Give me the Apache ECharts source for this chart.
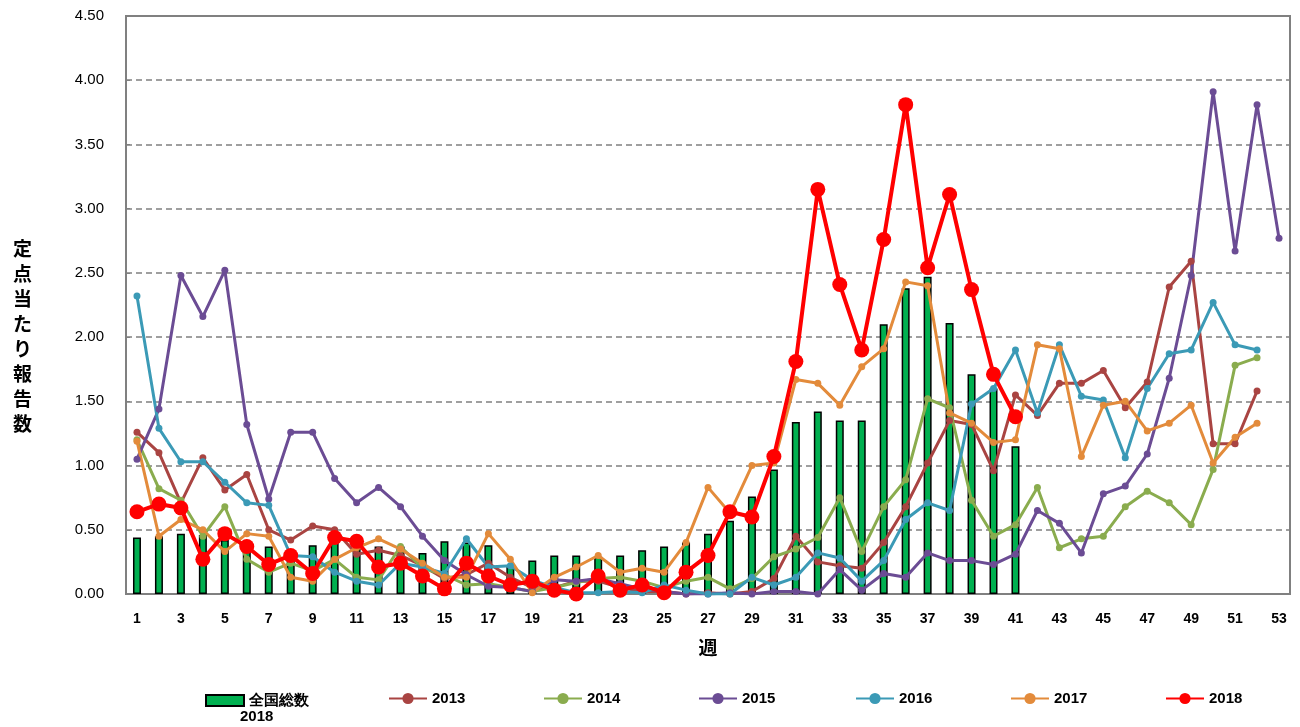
<!DOCTYPE html>
<html>
<head>
<meta charset="utf-8">
<script src="https://cdn.jsdelivr.net/npm/echarts@6/dist/echarts.min.js"></script>
<style>
  html, body { margin: 0; padding: 0; background: #fff; }
  #chart { width: 1300px; height: 727px; }
</style>
</head>
<body>
<div id="chart"></div>
<script>
var weeks = [];
for (var i = 1; i <= 53; i++) weeks.push(String(i));

// 全国総数 2018 (weeks 1-41)
var total2018 = [0.44, 0.45, 0.47, 0.46, 0.42, 0.38, 0.37, 0.33, 0.38, 0.42, 0.35, 0.37, 0.37, 0.32, 0.41, 0.40, 0.38, 0.21, 0.26, 0.30,
  0.30, 0.29, 0.30, 0.34, 0.37, 0.40, 0.47, 0.57, 0.76, 0.97, 1.34, 1.42, 1.35, 1.35, 2.10, 2.38, 2.47, 2.11, 1.71, 1.60, 1.15];
var y2013 = [1.26, 1.10, 0.71, 1.06, 0.81, 0.93, 0.50, 0.42, 0.53, 0.50, 0.31, 0.34, 0.30, 0.22, 0.12, 0.15, 0.24, 0.13, 0.05, 0.05,
  0.10, 0.10, 0.05, 0.02, 0.02, 0.00, 0.01, 0.00, 0.02, 0.12, 0.45, 0.25, 0.22, 0.20, 0.40, 0.68, 1.02, 1.35, 1.32, 0.96,
  1.55, 1.39, 1.64, 1.64, 1.74, 1.45, 1.65, 2.39, 2.59, 1.17, 1.17, 1.58];
var y2014 = [1.20, 0.82, 0.73, 0.45, 0.68, 0.27, 0.17, 0.24, 0.18, 0.27, 0.13, 0.11, 0.37, 0.20, 0.15, 0.07, 0.08, 0.05, 0.02, 0.05,
  0.09, 0.12, 0.13, 0.10, 0.05, 0.10, 0.13, 0.04, 0.12, 0.29, 0.35, 0.44, 0.75, 0.33, 0.68, 0.89, 1.52, 1.45, 0.73, 0.45,
  0.54, 0.83, 0.36, 0.43, 0.45, 0.68, 0.80, 0.71, 0.54, 0.97, 1.78, 1.84];
var y2015 = [1.05, 1.44, 2.48, 2.16, 2.52, 1.32, 0.74, 1.26, 1.26, 0.90, 0.71, 0.83, 0.68, 0.45, 0.26, 0.15, 0.06, 0.05, 0.02, 0.11,
  0.10, 0.12, 0.08, 0.04, 0.02, 0.00, 0.00, 0.01, 0.00, 0.02, 0.02, 0.00, 0.19, 0.03, 0.16, 0.13, 0.32, 0.26, 0.26, 0.23,
  0.31, 0.65, 0.55, 0.32, 0.78, 0.84, 1.09, 1.68, 2.48, 3.91, 2.67, 3.81, 2.77];
var y2016 = [2.32, 1.29, 1.03, 1.03, 0.87, 0.71, 0.69, 0.30, 0.29, 0.17, 0.10, 0.07, 0.24, 0.21, 0.16, 0.43, 0.21, 0.22, 0.11, 0.05,
  0.01, 0.01, 0.02, 0.01, 0.07, 0.03, 0.00, 0.00, 0.13, 0.07, 0.13, 0.32, 0.28, 0.10, 0.26, 0.58, 0.71, 0.65, 1.48, 1.60,
  1.90, 1.41, 1.94, 1.54, 1.51, 1.06, 1.60, 1.87, 1.90, 2.27, 1.94, 1.90];
var y2017 = [1.19, 0.45, 0.58, 0.50, 0.33, 0.47, 0.45, 0.13, 0.10, 0.27, 0.36, 0.43, 0.35, 0.24, 0.13, 0.13, 0.47, 0.27, 0.01, 0.13,
  0.21, 0.30, 0.17, 0.20, 0.17, 0.40, 0.83, 0.63, 1.00, 1.02, 1.67, 1.64, 1.47, 1.77, 1.91, 2.43, 2.40, 1.41, 1.33, 1.18,
  1.20, 1.94, 1.91, 1.07, 1.47, 1.50, 1.27, 1.33, 1.47, 1.02, 1.22, 1.33];
var y2018 = [0.64, 0.70, 0.67, 0.27, 0.47, 0.37, 0.23, 0.30, 0.16, 0.44, 0.41, 0.21, 0.24, 0.14, 0.04, 0.24, 0.14, 0.07, 0.10, 0.03,
  0.00, 0.14, 0.03, 0.07, 0.01, 0.17, 0.30, 0.64, 0.60, 1.07, 1.81, 3.15, 2.41, 1.90, 2.76, 3.81, 2.54, 3.11, 2.37, 1.71, 1.38];

var yName = ['定', '点', '当', 'た', 'り', '報', '告', '数'];

var chartDom = document.getElementById('chart');
var myChart = echarts.init(chartDom);
var option;

var txtFont = '"Liberation Sans Narrow", "Liberation Sans", Arial, sans-serif';

function lineSeries(name, color, data, big) {
  return {
    name: name,
    type: 'line',
    data: data,
    symbol: 'circle',
    symbolSize: big ? 15 : 7,
    showSymbol: true,
    showAllSymbol: true,
    lineStyle: { color: color, width: big ? 4 : 3 },
    itemStyle: { color: color },
    emphasis: { disabled: true },
    z: big ? 5 : 3
  };
}

function legendAt(name, left) {
  return {
    data: [name],
    left: left,
    top: 686,
    itemWidth: 38,
    itemHeight: 14,
    textStyle: { color: '#000', fontSize: 15, fontWeight: 'bold', fontFamily: txtFont }
  };
}

option = {
  backgroundColor: '#fff',
  animation: false,
  grid: {
    left: 126, right: 10, top: 16, bottom: 133,
    show: true, borderColor: '#808080', borderWidth: 2
  },
  legend: [
    { data: [{ name: '全国総数', icon: 'rect' }], left: 200, top: 688, itemWidth: 38, itemHeight: 11,
      textStyle: { color: '#000', fontSize: 15, fontWeight: 'bold', fontFamily: txtFont } },
    legendAt('2013', 383),
    legendAt('2014', 538),
    legendAt('2015', 693),
    legendAt('2016', 850),
    legendAt('2017', 1005),
    legendAt('2018', 1160)
  ],
  graphic: [
    { type: 'text', left: 240, top: 709,
      style: { text: '2018', fill: '#000', fontSize: 15, fontWeight: 'bold', fontFamily: txtFont } },
    { type: 'text', left: 13, top: 236,
      style: { text: yName.join('\n'), fill: '#000', fontSize: 19, lineHeight: 25, fontWeight: 'bold',
        fontFamily: '"Noto Sans CJK JP", sans-serif' } }
  ],
  xAxis: {
    type: 'category',
    data: weeks,
    name: '週',
    nameLocation: 'middle',
    nameGap: 44,
    nameTextStyle: { color: '#000', fontSize: 19, fontWeight: 'bold', fontFamily: '"Noto Sans CJK JP", sans-serif' },
    axisLine: { lineStyle: { color: '#808080', width: 2 } },
    axisTick: { inside: true, alignWithLabel: true, interval: 0, length: 5, lineStyle: { color: '#808080' } },
    axisLabel: { interval: 1, margin: 18, color: '#000', fontSize: 14, fontWeight: 'bold', fontFamily: txtFont },
    splitLine: { show: false }
  },
  yAxis: {
    type: 'value',
    min: 0, max: 4.5, interval: 0.5,
    axisLine: { show: true, lineStyle: { color: '#808080', width: 2 } },
    axisTick: { show: true, inside: true, length: 4, lineStyle: { color: '#808080' } },
    axisLabel: { margin: 22, color: '#000', fontSize: 15, fontFamily: txtFont,
      formatter: function (v) { return v.toFixed(2); } },
    splitLine: { lineStyle: { color: '#808080', type: [6, 4], width: 1.5 } }
  },
  series: [
    {
      name: '全国総数',
      type: 'bar',
      data: total2018,
      barWidth: 8,
      itemStyle: { color: '#00b050', borderColor: '#000', borderWidth: 1.5 },
      emphasis: { disabled: true },
      z: 2
    },
    lineSeries('2013', '#a94442', y2013, false),
    lineSeries('2014', '#8aac4e', y2014, false),
    lineSeries('2015', '#6b4c94', y2015, false),
    lineSeries('2016', '#3b9ab6', y2016, false),
    lineSeries('2017', '#e38b3b', y2017, false),
    lineSeries('2018', '#ff0000', y2018, true)
  ]
};

option && myChart.setOption(option);
</script>
</body>
</html>
